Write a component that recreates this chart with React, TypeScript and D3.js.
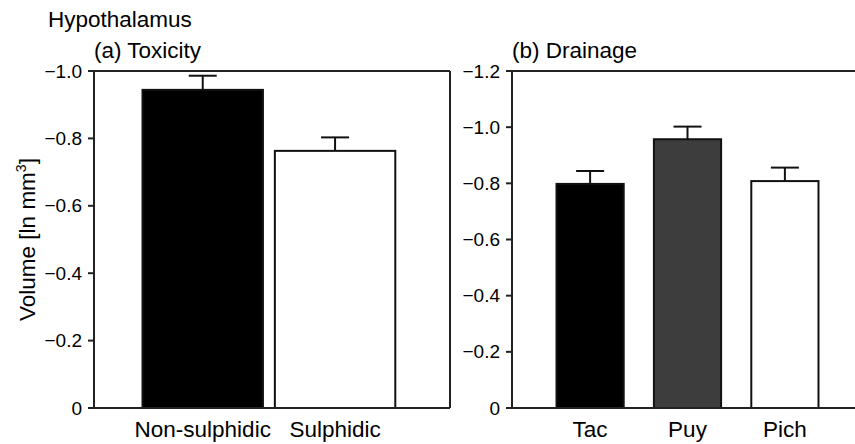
import React from 'react'
import { scaleBand, scaleLinear } from 'd3'

const FONT = '"Liberation Sans", Arial, Helvetica, sans-serif'

// data (volume, ln mm3; bars point "up" toward more negative)
const toxCategories = ['Non-sulphidic', 'Sulphidic']
const toxValues = [-0.944, -0.763]
const toxErrors = [0.042, 0.04]
const toxFills = ['#000000', '#ffffff']
const toxTicks = [0, -0.2, -0.4, -0.6, -0.8, -1.0]

const drainCategories = ['Tac', 'Puy', 'Pich']
const drainValues = [-0.798, -0.957, -0.808]
const drainErrors = [0.046, 0.045, 0.048]
const drainFills = ['#000000', '#3d3d3d', '#ffffff']
const drainTicks = [0, -0.2, -0.4, -0.6, -0.8, -1.0, -1.2]

const TOP = 71
const BOTTOM = 408
const CAP = 14

const fmt = (v: number) => (v === 0 ? '0' : '\u2212' + Math.abs(v).toFixed(1))

type PanelProps = {
  left: number
  right: number
  frameRight: number
  categories: string[]
  values: number[]
  errors: number[]
  fills: string[]
  ticks: number[]
  yMin: number
  padInner: number
  padOuter: number
  align: number
  title: string
  showRight: boolean
}

const Panel = (p: PanelProps) => {
  const x = scaleBand<string>()
    .domain(p.categories)
    .range([p.left, p.right])
    .paddingInner(p.padInner)
    .paddingOuter(p.padOuter)
    .align(p.align)
  const y = scaleLinear().domain([0, p.yMin]).range([BOTTOM, TOP])

  return (
    <g>
      <text x={p.left} y={58} fontSize={22.5} fontFamily={FONT}>{p.title}</text>

      {p.categories.map((c, i) => {
        const x0 = x(c) as number
        const cx = x0 + x.bandwidth() / 2
        const yTop = y(p.values[i])
        const yErr = y(p.values[i] - p.errors[i])
        return (
          <g key={c}>
            <line x1={cx} x2={cx} y1={yTop} y2={yErr} stroke="#111" strokeWidth={2} />
            <line x1={cx - CAP} x2={cx + CAP} y1={yErr} y2={yErr} stroke="#111" strokeWidth={2} />
            <rect x={x0} y={yTop} width={x.bandwidth()} height={BOTTOM - yTop}
              fill={p.fills[i]} stroke="#111" strokeWidth={2} />
            <text x={cx} y={437} textAnchor="middle" fontSize={22.5} fontFamily={FONT}>{c}</text>
          </g>
        )
      })}

      {/* frame */}
      <line x1={p.left} x2={p.frameRight} y1={TOP} y2={TOP} stroke="#222" strokeWidth={2} />
      <line x1={p.left} x2={p.frameRight} y1={BOTTOM} y2={BOTTOM} stroke="#222" strokeWidth={2} />
      <line x1={p.left} x2={p.left} y1={TOP} y2={BOTTOM} stroke="#222" strokeWidth={2} />
      {p.showRight && (
        <line x1={p.frameRight} x2={p.frameRight} y1={TOP} y2={BOTTOM} stroke="#222" strokeWidth={2} />
      )}

      <g>
        {p.ticks.map(t => (
          <g key={t} transform={`translate(${p.left}, ${y(t)})`}>
            <line x1={-6} x2={0} y1={0} y2={0} stroke="#222" strokeWidth={2} />
            <text x={-12} y={0} dy="0.35em" textAnchor="end" fontSize={19} fontFamily={FONT}>{fmt(t)}</text>
          </g>
        ))}
      </g>
    </g>
  )
}

export default function App() {
  return (
    <svg width={855} height={444} style={{ position: 'absolute', left: 0, top: 0, background: '#fff' }}>
      <text x={48} y={27} fontSize={22.5} fontFamily={FONT}>Hypothalamus</text>
      <text transform={`translate(35, ${(TOP + BOTTOM) / 2}) rotate(-90)`} textAnchor="middle"
        fontSize={22.5} fontFamily={FONT}>
        Volume [ln mm<tspan fontSize={14} dy={-9}>3</tspan><tspan dy={9}>]</tspan>
      </text>

      <Panel left={94} right={450} frameRight={450} categories={toxCategories} values={toxValues}
        errors={toxErrors} fills={toxFills} ticks={toxTicks} yMin={-1.0}
        padInner={0.09} padOuter={0.39} align={0.47} title="(a) Toxicity" showRight />

      <Panel left={512} right={863} frameRight={863} categories={drainCategories} values={drainValues}
        errors={drainErrors} fills={drainFills} ticks={drainTicks} yMin={-1.2}
        padInner={0.31} padOuter={0.457} align={0.5} title="(b) Drainage" showRight={false} />
    </svg>
  )
}
